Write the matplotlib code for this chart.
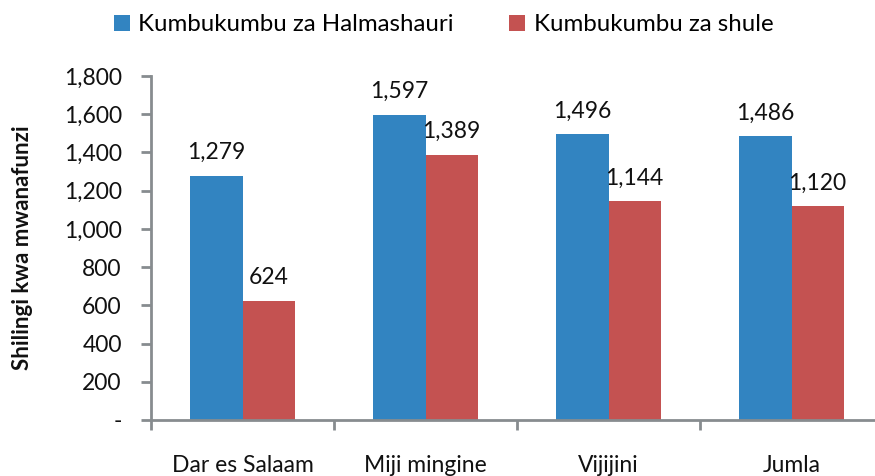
import numpy as np
import matplotlib.pyplot as plt
from matplotlib.ticker import FuncFormatter

categories = ["Dar es Salaam", "Miji mingine", "Vijijini", "Jumla"]
halmashauri = [1279, 1597, 1496, 1486]
shule = [624, 1389, 1144, 1120]
series_names = ["Kumbukumbu za Halmashauri", "Kumbukumbu za shule"]

blue = "#3284C1"
red = "#C45251"
gray = "#878C8F"

plt.rcParams["font.family"] = ["Lato", "DejaVu Sans"]

fig = plt.figure(figsize=(8.75, 4.76), dpi=100)
ax = fig.add_axes([151 / 875, 1 - 420 / 476, (883 - 151) / 875, (420 - 76) / 476])

x = np.arange(len(categories))
w = 0.285
b1 = ax.bar(x - w / 2, halmashauri, w, color=blue, label=series_names[0])
b2 = ax.bar(x + w / 2, shule, w, color=red, label=series_names[1])

for bars in (b1, b2):
    for r in bars:
        ax.annotate(f"{int(r.get_height()):,}", (r.get_x() + r.get_width() / 2, r.get_height()),
                    xytext=(0, 9), textcoords="offset points", ha="center", va="bottom",
                    fontsize=16.5, color="#111111")

ax.set_xlim(-0.5, len(categories) - 0.5)
ax.set_ylim(0, 1800)
ax.set_yticks(range(0, 1801, 200))
ax.yaxis.set_major_formatter(FuncFormatter(lambda v, p: "-" if v == 0 else f"{int(v):,}"))

ax.set_xticks(x)
ax.set_xticklabels(categories)
ax.set_xticks(np.arange(-0.5, len(categories)), minor=True)
ax.tick_params(axis="x", which="major", length=0, pad=25, labelsize=16.5, labelcolor="#111111")
ax.tick_params(axis="x", which="minor", length=7, width=2, color=gray)
ax.tick_params(axis="y", length=7, width=2, color=gray, labelsize=16.5, pad=14, labelcolor="#111111")

for s in ("top", "right"):
    ax.spines[s].set_visible(False)
for s in ("left", "bottom"):
    ax.spines[s].set_color(gray)
    ax.spines[s].set_linewidth(2)

ax.set_ylabel("Shilingi kwa mwanafunzi", fontsize=16, fontweight="bold", color="#111111")
ax.yaxis.set_label_coords(-(151 - 33) / 732, 0.5)

fig.legend(handles=[b1, b2], loc="upper left", bbox_to_anchor=(92 / 875, 1.015), ncol=2,
           frameon=False, fontsize=17.3, handlelength=0.68, handleheight=0.68,
           handletextpad=0.35, columnspacing=2.3)

fig.savefig("out.png", dpi=100)
